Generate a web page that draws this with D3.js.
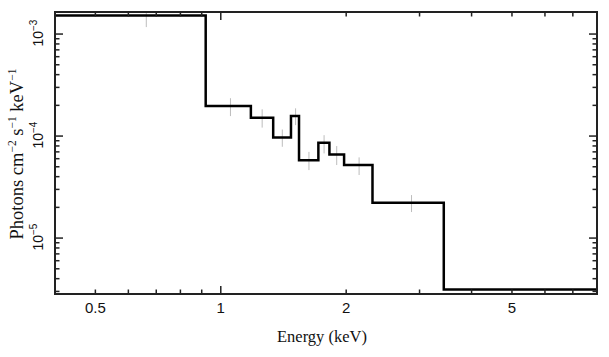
<!DOCTYPE html>
<html>
<head>
<meta charset="utf-8">
<script src="https://cdn.jsdelivr.net/npm/d3@7"></script>
<style>
  html, body { margin: 0; padding: 0; background: #fff; }
  svg { display: block; }
</style>
</head>
<body>
<script>
// ---- data ----
const binLo = [0.40, 0.920, 1.181, 1.336, 1.474, 1.541, 1.715, 1.823, 1.977, 2.313, 3.43];
const binHi = [0.920, 1.181, 1.336, 1.474, 1.541, 1.715, 1.823, 1.977, 2.313, 3.43, 8.0];
const modelVals = [1.52e-3, 1.97e-4, 1.51e-4, 9.7e-5, 1.57e-4, 5.78e-5, 8.6e-5, 6.6e-5, 5.2e-5, 2.22e-5, 3.14e-6];

const errEnergy = [0.6625, 1.055, 1.257, 1.405, 1.512, 1.628, 1.77, 1.898, 2.148, 2.87];
const errLow    = [1.17e-3, 1.57e-4, 1.21e-4, 7.85e-5, 1.28e-4, 4.64e-5, 6.76e-5, 5.2e-5, 4.15e-5, 1.8e-5];
const errHigh   = [2.0e-3, 2.35e-4, 1.83e-4, 1.16e-4, 1.87e-4, 7.0e-5, 1.02e-4, 7.98e-5, 6.18e-5, 2.64e-5];

const xTickLabels = [0.5, 1, 2, 5];
const xMajorTicks = [1];
const xMinorTicks = [0.5, 0.6, 0.7, 0.8, 0.9, 2, 3, 4, 5, 6, 7, 8];
const yTickExponents = [-3, -4, -5];

const xDomain = [0.4, 8];
const yDomain = [2.83e-6, 1.645e-3];

// ---- layout ----
const W = 609, H = 357;
const L = 55, R = 597, T = 12, B = 294;

const svg = d3.select("body").append("svg").attr("width", W).attr("height", H);

const x = d3.scaleLog().domain(xDomain).range([L, R]);
const y = d3.scaleLog().domain(yDomain).range([B, T]);

svg.append("defs").append("clipPath").attr("id", "clip")
  .append("rect").attr("x", L).attr("y", T).attr("width", R - L).attr("height", B - T);

const plot = svg.append("g").attr("clip-path", "url(#clip)");

// error bars
plot.selectAll("line.err").data(errEnergy).enter().append("line")
  .attr("class", "err")
  .attr("x1", d => x(d)).attr("x2", d => x(d))
  .attr("y1", (d, i) => y(errLow[i])).attr("y2", (d, i) => y(errHigh[i]))
  .attr("stroke", "#bdbdbd").attr("stroke-width", 1);

// step line
const pts = [];
binLo.forEach((lo, i) => { pts.push([lo, modelVals[i]]); pts.push([binHi[i], modelVals[i]]); });
plot.append("path")
  .attr("d", d3.line().x(d => x(d[0])).y(d => y(d[1]))(pts))
  .attr("fill", "none").attr("stroke", "#000").attr("stroke-width", 2.5)
  .attr("stroke-linejoin", "miter");

// ticks
const axisColor = "#222";
const tg = svg.append("g").attr("stroke", axisColor).attr("stroke-width", 1.5);
const minorLen = 4.5, majorLen = 8;

function xTick(v, len) {
  tg.append("line").attr("x1", x(v)).attr("x2", x(v)).attr("y1", B).attr("y2", B - len);
  tg.append("line").attr("x1", x(v)).attr("x2", x(v)).attr("y1", T).attr("y2", T + len);
}
xMinorTicks.forEach(v => xTick(v, minorLen));
xMajorTicks.forEach(v => xTick(v, majorLen));

const yMajor = [], yMinor = [];
for (let e = -6; e <= -3; e++) {
  const base = Math.pow(10, e);
  if (base >= yDomain[0] && base <= yDomain[1]) yMajor.push(base);
  for (let m = 2; m <= 9; m++) {
    const v = m * base;
    if (v >= yDomain[0] && v <= yDomain[1]) yMinor.push(v);
  }
}
function yTick(v, len) {
  tg.append("line").attr("x1", L).attr("x2", L + len).attr("y1", y(v)).attr("y2", y(v));
  tg.append("line").attr("x1", R).attr("x2", R - len).attr("y1", y(v)).attr("y2", y(v));
}
yMinor.forEach(v => yTick(v, minorLen));
yMajor.forEach(v => yTick(v, majorLen));

// frame
svg.append("rect").attr("x", L).attr("y", T).attr("width", R - L).attr("height", B - T)
  .attr("fill", "none").attr("stroke", axisColor).attr("stroke-width", 2);

// x tick labels
svg.append("g").selectAll("text").data(xTickLabels).enter().append("text")
  .attr("x", d => x(d)).attr("y", 313)
  .attr("text-anchor", "middle")
  .attr("font-family", "Liberation Sans, Arial, sans-serif")
  .attr("font-size", 15).attr("fill", "#111")
  .text(d => d3.format("")(d));

// y tick labels (rotated)
yTickExponents.forEach(e => {
  const t = svg.append("text")
    .attr("transform", `translate(43, ${y(Math.pow(10, e)) - 1}) rotate(-90)`)
    .attr("text-anchor", "middle")
    .attr("font-family", "Liberation Sans, Arial, sans-serif")
    .attr("font-size", 14).attr("fill", "#111");
  t.append("tspan").text("10");
  t.append("tspan").attr("dy", -6).attr("font-size", 10).text("\u2212" + Math.abs(e));
});

// axis titles
svg.append("text")
  .attr("x", (L + R) / 2 - 4).attr("y", 342)
  .attr("text-anchor", "middle")
  .attr("font-family", "Liberation Serif, Times New Roman, serif")
  .attr("font-size", 16.5).attr("fill", "#111")
  .text("Energy (keV)");

const yl = svg.append("text")
  .attr("transform", `translate(23, 154) rotate(-90)`)
  .attr("text-anchor", "middle")
  .attr("font-family", "Liberation Serif, Times New Roman, serif")
  .attr("font-size", 18.5).attr("fill", "#111");
yl.append("tspan").text("Photons cm");
yl.append("tspan").attr("dy", -7).attr("font-size", 11.5).text("\u22122");
yl.append("tspan").attr("dy", 7).text(" s");
yl.append("tspan").attr("dy", -7).attr("font-size", 11.5).text("\u22121");
yl.append("tspan").attr("dy", 7).text(" keV");
yl.append("tspan").attr("dy", -7).attr("font-size", 11.5).text("\u22121");
</script>
</body>
</html>
